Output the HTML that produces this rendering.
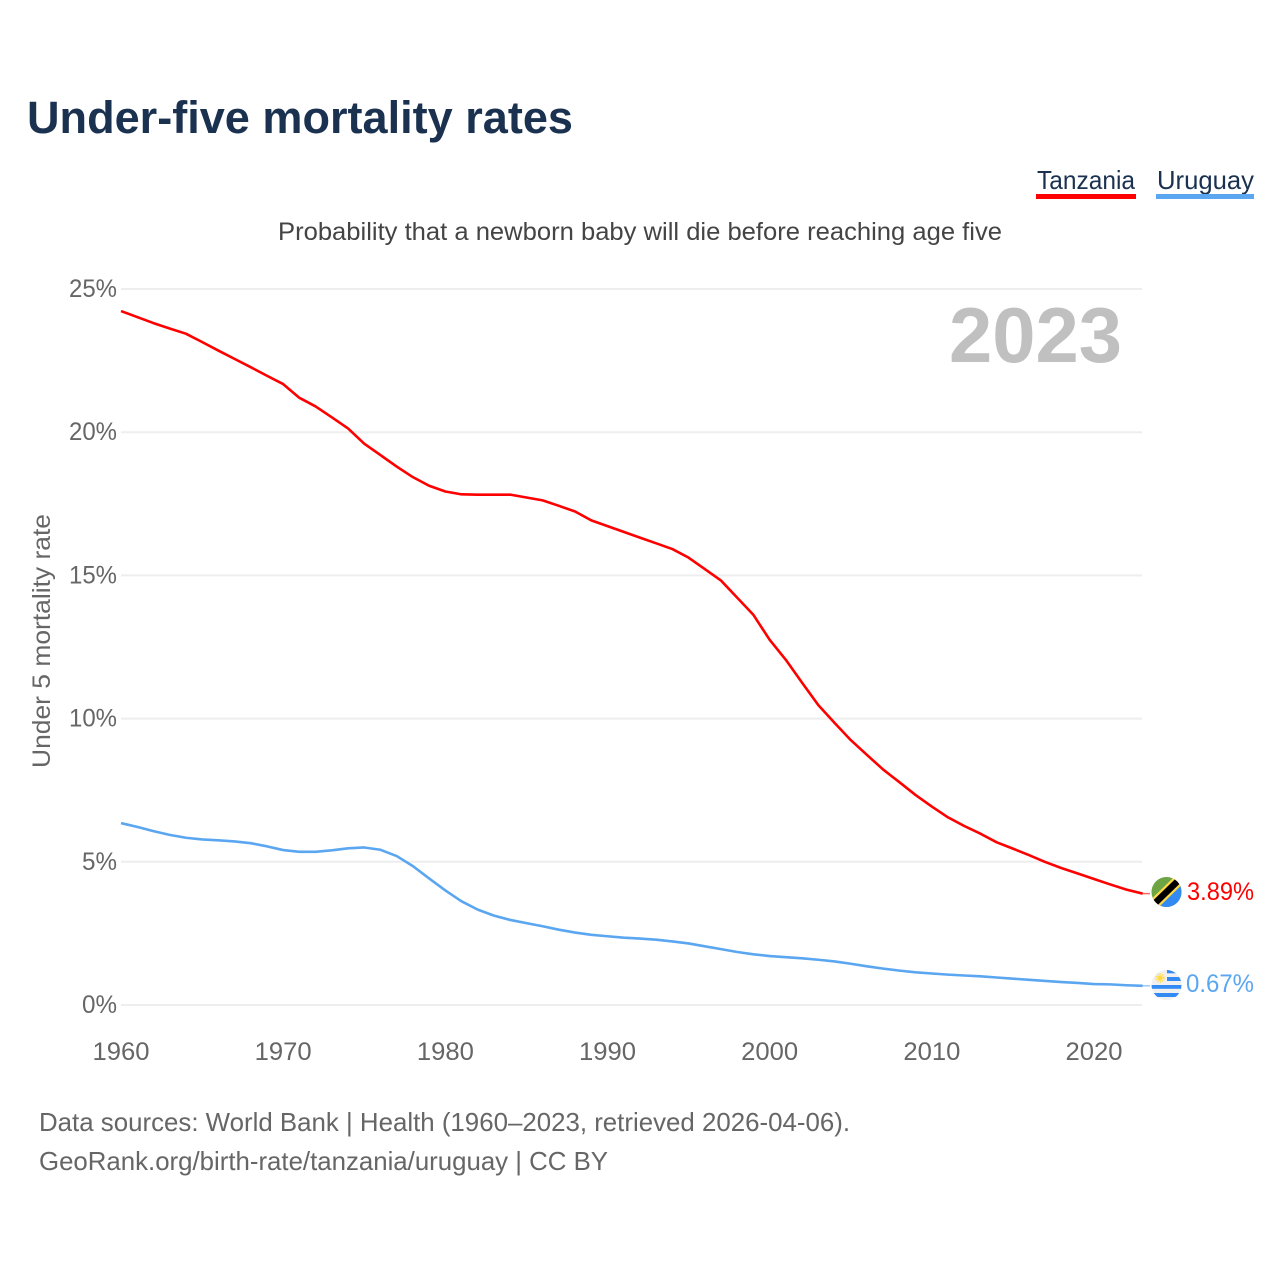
<!DOCTYPE html>
<html lang="en">
<head>
<meta charset="utf-8">
<title>Under-five mortality rates</title>
<style>
html,body{margin:0;padding:0;background:#fff;width:1280px;height:1280px;overflow:hidden}
svg{display:block;font-family:"Liberation Sans",sans-serif}
</style>
</head>
<body>
<svg id="chart" xmlns="http://www.w3.org/2000/svg" width="1280" height="1280" viewBox="0 0 1280 1280">
  <rect width="1280" height="1280" fill="#fff"/>
  <text x="27" y="133" font-size="45" font-weight="700" fill="#1a3150" textLength="546" lengthAdjust="spacingAndGlyphs">Under-five mortality rates</text>

  <g>
    <text x="1037" y="189" font-size="26" fill="#1a3150" textLength="98" lengthAdjust="spacingAndGlyphs">Tanzania</text>
    <rect x="1036" y="194" width="100" height="5" fill="#ff0000"/>
  </g>
  <g>
    <text x="1157" y="189" font-size="26" fill="#1a3150" textLength="97" lengthAdjust="spacingAndGlyphs">Uruguay</text>
    <rect x="1156" y="194" width="98" height="5" fill="#5ba6f0"/>
  </g>

  <text x="278" y="240" font-size="25" fill="#444" textLength="724" lengthAdjust="spacingAndGlyphs">Probability that a newborn baby will die before reaching age five</text>
  <text x="949" y="362" font-size="78" font-weight="700" fill="#c0c0c0" textLength="173" lengthAdjust="spacingAndGlyphs">2023</text>
  <text transform="translate(50,768) rotate(-90)" font-size="25" fill="#666" textLength="254" lengthAdjust="spacingAndGlyphs">Under 5 mortality rate</text>

  <g id="y-grid"></g>
  <g id="x-axis"></g>
  <g id="series"></g>

  <defs>
    <clipPath id="flag-clip-tz"><circle cx="1166.5" cy="892" r="15"/></clipPath>
    <clipPath id="flag-clip-uy"><circle cx="1166.5" cy="985" r="15"/></clipPath>
  </defs>

  <g id="flag-tanzania" clip-path="url(#flag-clip-tz)">
    <rect x="1151" y="876" width="32" height="32" fill="#6da544"/>
    <polygon points="1184,876 1184,910 1150,910" fill="#338af3"/>
    <line x1="1150" y1="908" x2="1183" y2="876" stroke="#ffda44" stroke-width="11"/>
    <line x1="1150" y1="908" x2="1183" y2="876" stroke="#000" stroke-width="6.5"/>
  </g>

  <g id="flag-uruguay" clip-path="url(#flag-clip-uy)">
    <rect x="1151" y="969" width="32" height="32" fill="#f0f0f0"/>
    <rect x="1167" y="969.5" width="16" height="3.8" fill="#338af3"/>
    <rect x="1167" y="977" width="16" height="4" fill="#338af3"/>
    <rect x="1151" y="985" width="32" height="3.8" fill="#338af3"/>
    <rect x="1151" y="993" width="32" height="4" fill="#338af3"/>
    <circle cx="1160" cy="978" r="2.8" fill="#ffda44"/>
    <circle cx="1160" cy="978" r="4" fill="none" stroke="#ffda44" stroke-width="1.4" stroke-dasharray="1.4 1.2"/>
  </g>

  <text x="1254" y="900" text-anchor="end" font-size="25" fill="#ff0000" textLength="67" lengthAdjust="spacingAndGlyphs">3.89%</text>
  <text x="1254" y="992" text-anchor="end" font-size="25" fill="#5ba6f0" textLength="68" lengthAdjust="spacingAndGlyphs">0.67%</text>

  <text x="39" y="1131" font-size="26" fill="#666" textLength="811" lengthAdjust="spacingAndGlyphs">Data sources: World Bank | Health (1960–2023, retrieved 2026-04-06).</text>
  <text x="39" y="1170" font-size="26" fill="#666" textLength="569" lengthAdjust="spacingAndGlyphs">GeoRank.org/birth-rate/tanzania/uruguay | CC BY</text>
</svg>

<script>
const startYear = 1960;
const tanzania = [24.23,24.02,23.81,23.62,23.44,23.15,22.85,22.56,22.27,21.97,21.68,21.2,20.9,20.52,20.13,19.6,19.2,18.8,18.43,18.13,17.93,17.83,17.82,17.82,17.82,17.72,17.62,17.43,17.23,16.92,16.72,16.52,16.32,16.12,15.92,15.62,15.22,14.82,14.22,13.62,12.75,12.05,11.25,10.47,9.85,9.25,8.73,8.22,7.78,7.33,6.93,6.55,6.25,5.98,5.68,5.46,5.23,4.99,4.78,4.59,4.4,4.21,4.03,3.89];
const uruguay = [6.35,6.22,6.07,5.94,5.84,5.78,5.75,5.71,5.65,5.54,5.41,5.35,5.35,5.4,5.47,5.5,5.42,5.2,4.85,4.42,4.0,3.62,3.33,3.12,2.97,2.86,2.75,2.63,2.53,2.45,2.4,2.35,2.32,2.28,2.22,2.15,2.05,1.95,1.85,1.77,1.71,1.67,1.63,1.58,1.52,1.44,1.35,1.27,1.2,1.14,1.1,1.06,1.03,1.0,0.96,0.92,0.88,0.84,0.8,0.77,0.73,0.72,0.69,0.67];
const yTicks = [0,5,10,15,20,25];
const xTicks = [1960,1970,1980,1990,2000,2010,2020];

const SVG_NS = 'http://www.w3.org/2000/svg';
const xScale = year => 121 + (year - 1960) * 16.217;
const yScale = value => 1005 - value * 28.64;
const fmtPct = value => value + '%';

function make(tag, attrs, parent, text) {
  const el = document.createElementNS(SVG_NS, tag);
  for (const k in attrs) el.setAttribute(k, attrs[k]);
  if (text !== undefined) el.textContent = text;
  parent.appendChild(el);
  return el;
}

const gridGroup = document.getElementById('y-grid');
yTicks.forEach(tick => {
  const line = make('line', {x1: 121, x2: 1142, y1: yScale(tick), y2: yScale(tick), stroke: '#eeeeee', 'stroke-width': 2}, gridGroup);
  
  
  const label = fmtPct(tick);
  const t = make('text', {x: 117, y: yScale(tick) + 8, 'text-anchor': 'end', 'font-size': 25, fill: '#666', textLength: tick < 10 ? 35 : 48, lengthAdjust: 'spacingAndGlyphs'}, gridGroup, label);
  
  
});

const xGroup = document.getElementById('x-axis');
xTicks.forEach(tick => {
  const t = make('text', {x: xScale(tick), y: 1060, 'text-anchor': 'middle', 'font-size': 25, fill: '#666', textLength: 57, lengthAdjust: 'spacingAndGlyphs'}, xGroup, String(tick));
  
  
});

function linePath(values) {
  return values.map((v, i) => (i ? 'L' : 'M') + xScale(startYear + i).toFixed(2) + ' ' + yScale(v).toFixed(2)).join(' ');
}

const seriesGroup = document.getElementById('series');
const uruguayLine = make('path', {d: linePath(uruguay), fill: 'none', stroke: '#5ba6f0', 'stroke-width': 2.6, 'stroke-linejoin': 'round'}, seriesGroup);


const tanzaniaLine = make('path', {d: linePath(tanzania), fill: 'none', stroke: '#ff0000', 'stroke-width': 2.6, 'stroke-linejoin': 'round'}, seriesGroup);



const lastT = tanzania[tanzania.length - 1];
const lastU = uruguay[uruguay.length - 1];
const leaderT = make('line', {x1: xScale(2023), x2: 1150, y1: yScale(lastT), y2: yScale(lastT), stroke: '#ff0000', 'stroke-width': 1.5, opacity: 0.6}, seriesGroup);


const leaderU = make('line', {x1: xScale(2023), x2: 1150, y1: yScale(lastU), y2: yScale(lastU), stroke: '#5ba6f0', 'stroke-width': 1.5, opacity: 0.6}, seriesGroup);


</script>
</body>
</html>
